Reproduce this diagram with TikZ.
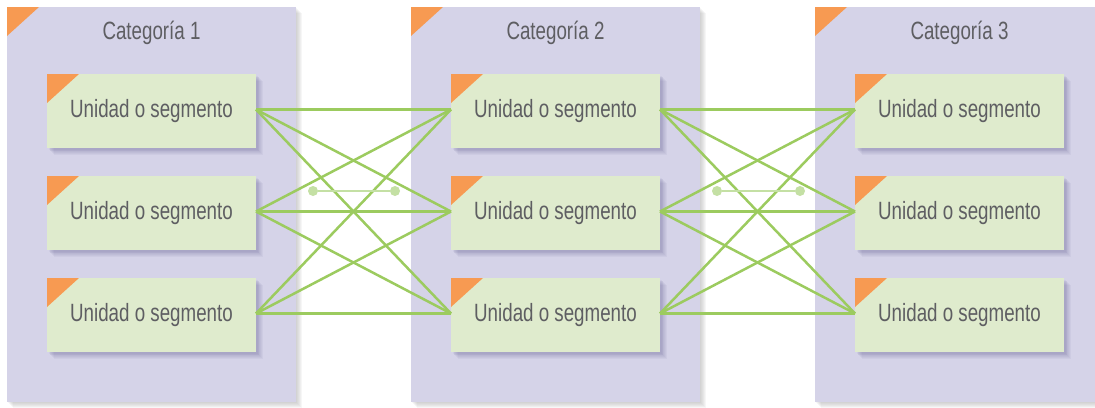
\documentclass[tikz,border=0pt]{standalone}
\usepackage{fontspec}
\setmainfont{Liberation Sans}
\usetikzlibrary{calc}
\definecolor{panelc}{HTML}{D5D3E8}
\definecolor{boxc}{HTML}{DFEBCD}
\definecolor{orangec}{HTML}{F79A52}
\definecolor{greenc}{HTML}{9CCB5F}
\definecolor{lightg}{HTML}{C4E0A4}
\definecolor{textc}{HTML}{5E5E62}
\definecolor{pshadow}{HTML}{8A8A8A}
\definecolor{bshadow}{HTML}{6E6A9A}
\tikzset{
  panel/.style={fill=panelc, minimum width=289pt, minimum height=395pt, inner sep=0pt, outer sep=0pt},
  unitbox/.style={fill=boxc, minimum width=209pt, minimum height=74pt, inner sep=0pt, outer sep=0pt,
    font=\fontsize{25}{27}\selectfont, text=textc},
  title/.style={font=\fontsize{25}{27}\selectfont, text=textc},
  link/.style={draw=greenc, line width=2.5pt},
  dot/.style={circle, fill=lightg, inner sep=0pt, minimum size=10pt},
  minilink/.style={draw=lightg, line width=2.2pt},
}
\newcommand{\cond}[1]{\raisebox{-2pt}{\scalebox{0.75}[1]{#1}}}
\begin{document}
\begin{tikzpicture}[x=1pt,y=-1pt]
\useasboundingbox[fill=white] (0,0) rectangle (1095,407);
% panel shadows
\foreach \px in {7,411,815}{
  \foreach \k in {1,...,6}{
    \fill[pshadow, opacity=0.07] (\px+\k,7+\k) rectangle (\px+289+\k,402+\k);
  }
}
% panels
\node[panel] (p1) at (151.5,204.5) {};
\node[panel] (p2) at (555.5,204.5) {};
\node[panel] (p3) at (959.5,204.5) {};
\foreach \p in {p1,p2,p3}{
  \fill[orangec] (\p.north west) -- ++(32,0) -- ++(-32,29) -- cycle;
}
\node[title] (t1) at (p1.north |- 0,33) {\cond{Categoría 1}};
\node[title] (t2) at (p2.north |- 0,33) {\cond{Categoría 2}};
\node[title] (t3) at (p3.north |- 0,33) {\cond{Categoría 3}};
% box shadows
\foreach \px in {47,451,855}{
  \foreach \py in {74,176,278}{
    \foreach \k in {1,...,7}{
      \fill[bshadow, opacity=0.07] (\px+\k*0.8+1,\py+\k*0.8+1) rectangle (\px+209+\k*0.8+1,\py+74+\k*0.8+1);
    }
  }
}
% boxes
\foreach \c/\cx in {1/151.5,2/555.5,3/959.5}{
  \foreach \r/\cy in {1/111,2/213,3/315}{
    \node[unitbox] (b\c\r) at (\cx,\cy) {\cond{Unidad o segmento}};
    \fill[orangec] (b\c\r.north west) -- ++(32,0) -- ++(-32,29) -- cycle;
  }
}
% links
\foreach \a in {1,2,3}{
  \foreach \b in {1,2,3}{
    \draw[link] ($(b1\a.east)+(0,-1.5)$) -- ($(b2\b.west)+(0,-1.5)$);
    \draw[link] ($(b2\a.east)+(0,-1.5)$) -- ($(b3\b.west)+(0,-1.5)$);
  }
}
% mini connectors
\node[dot] (d1) at (313,191) {};
\node[dot] (d2) at (395,191) {};
\node[dot] (d3) at (717,191) {};
\node[dot] (d4) at (800,191) {};
\draw[minilink] (d1) -- (d2);
\draw[minilink] (d3) -- (d4);
\end{tikzpicture}
\end{document}
